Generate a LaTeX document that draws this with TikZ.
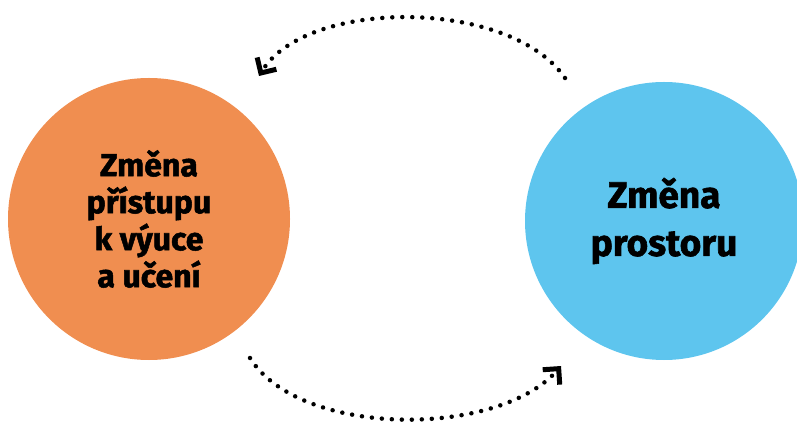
\documentclass[tikz,border=0pt]{standalone}
\usepackage{fontspec}
\setmainfont{Fira Sans}[BoldFeatures={FakeBold=1.6}]
\usetikzlibrary{positioning, arrows.meta}
\definecolor{changeorange}{RGB}{240,142,80}
\definecolor{changeblue}{RGB}{94,197,238}

\begin{document}
\begin{tikzpicture}[
  x=1pt, y=-1pt,
  every node/.style={font=\bfseries},
  blob/.style   = {circle, inner sep=0pt, align=center},
  cycle/.style  = {line width=4.5pt, dash pattern=on 0pt off 10pt, line cap=round,
                   -{Straight Barb[angle=90:16pt, line width=5pt, sharp]}},
]
  \useasboundingbox (0,0) rectangle (797,427);
  % two circles: the approach to teaching and the space
  \node[blob, fill=changeorange, minimum size=282pt, font=\bfseries\fontsize{32}{37}\selectfont]
       (approach) at (149,219) {Změna\\přístupu\\k výuce\\a učení};
  \node[blob, fill=changeblue, minimum size=278pt, font=\bfseries\fontsize{37}{48}\selectfont]
       (space) at (664,221) {Změna\\prostoru};
  % free ends of the dotted loop
  \coordinate (topstart) at (565,78);
  \coordinate (topend)   at (259,76);
  \coordinate (botstart) at (250,358);
  \coordinate (botend)   at (561,366);
  \draw[cycle] (topstart) .. controls (510,-2) and (307,-2) .. (topend);
  \draw[cycle] (botstart) .. controls (300,438) and (498,438) .. (botend);
\end{tikzpicture}
\end{document}
